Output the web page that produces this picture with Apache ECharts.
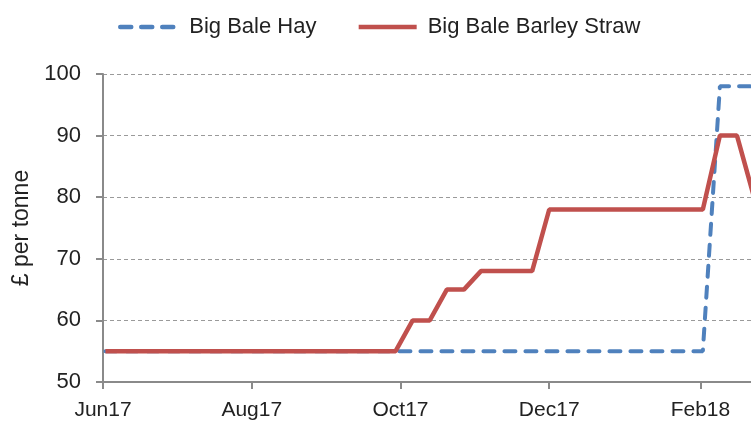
<!DOCTYPE html>
<html>
<head>
<meta charset="utf-8">
<script src="https://cdn.jsdelivr.net/npm/echarts@6/dist/echarts.min.js"></script>
<style>
  html, body { margin: 0; padding: 0; background: #ffffff; }
  #chart { width: 751px; height: 428px; }
</style>
</head>
<body>
<div id="chart"></div>
<script>
// Weekly price observations (Fridays)
const weeks = [
  '2017-06-02', '2017-06-09', '2017-06-16', '2017-06-23', '2017-06-30',
  '2017-07-07', '2017-07-14', '2017-07-21', '2017-07-28',
  '2017-08-04', '2017-08-11', '2017-08-18', '2017-08-25',
  '2017-09-01', '2017-09-08', '2017-09-15', '2017-09-22', '2017-09-29',
  '2017-10-06', '2017-10-13', '2017-10-20', '2017-10-27',
  '2017-11-03', '2017-11-10', '2017-11-17', '2017-11-24',
  '2017-12-01', '2017-12-08', '2017-12-15', '2017-12-22', '2017-12-29',
  '2018-01-05', '2018-01-12', '2018-01-19', '2018-01-26',
  '2018-02-02', '2018-02-09', '2018-02-16', '2018-02-23'
];

// £ per tonne
const hayPrices = [
  55, 55, 55, 55, 55,
  55, 55, 55, 55,
  55, 55, 55, 55,
  55, 55, 55, 55, 55,
  55, 55, 55, 55,
  55, 55, 55, 55,
  55, 55, 55, 55, 55,
  55, 55, 55, 55,
  55, 98, 98, 98
];

const strawPrices = [
  55, 55, 55, 55, 55,
  55, 55, 55, 55,
  55, 55, 55, 55,
  55, 55, 55, 55, 55,
  60, 60, 65, 65,
  68, 68, 68, 68,
  78, 78, 78, 78, 78,
  78, 78, 78, 78,
  78, 90, 90, 80
];

const seriesNames = ['Big Bale Hay', 'Big Bale Barley Straw'];
const tickDates = ['2017-06-01', '2017-08-01', '2017-10-01', '2017-12-01', '2018-02-01', '2018-04-01', '2018-06-01'];
const monthNames = ['Jan', 'Feb', 'Mar', 'Apr', 'May', 'Jun', 'Jul', 'Aug', 'Sep', 'Oct', 'Nov', 'Dec'];

const ts = d => { const p = d.split('-').map(Number); return Date.UTC(p[0], p[1] - 1, p[2]); };
const pairs = vals => weeks.map((d, i) => [ts(d), vals[i]]);
const tickValues = tickDates.map(ts);

const FONT = 'Liberation Sans';
const TEXT = '#222222';

const chart = echarts.init(document.getElementById('chart'), null, { renderer: 'canvas' });
chart.setOption({
  animation: false,
  textStyle: { fontFamily: FONT, color: TEXT },
  legend: {
    left: 113,
    top: 11,
    itemWidth: 58,
    itemHeight: 14,
    itemGap: 40,
    itemStyle: { opacity: 0 },
    lineStyle: { width: 4.5 },
    textStyle: { fontFamily: FONT, fontSize: 22, color: TEXT, padding: [0, 0, 0, 6] },
    data: seriesNames
  },
  // the plot runs on past the right edge of the page
  grid: { left: 103, top: 74, width: 890, height: 308, containLabel: false, outerBoundsMode: 'none' },
  xAxis: {
    type: 'value',
    min: ts('2017-06-01'),
    max: ts('2018-06-01'),
    axisLine: { lineStyle: { color: '#8a8a8a', width: 2 } },
    axisTick: { show: true, length: 7, inside: false, customValues: tickValues, lineStyle: { color: '#8a8a8a', width: 2 } },
    axisLabel: {
      customValues: tickValues,
      margin: 18,
      fontFamily: FONT,
      fontSize: 21,
      color: TEXT,
      formatter: v => {
        const d = new Date(v);
        return monthNames[d.getUTCMonth()] + String(d.getUTCFullYear()).slice(2);
      }
    },
    splitLine: { show: false }
  },
  yAxis: {
    type: 'value',
    min: 50,
    max: 100,
    interval: 10,
    name: '£ per tonne',
    nameLocation: 'middle',
    nameRotate: 90,
    nameGap: 70,
    nameTextStyle: { fontFamily: FONT, fontSize: 23, color: TEXT },
    axisLine: { show: true, lineStyle: { color: '#8a8a8a', width: 2 } },
    axisTick: { show: true, length: 7, lineStyle: { color: '#8a8a8a', width: 2 } },
    axisLabel: { margin: 22, fontFamily: FONT, fontSize: 22, color: TEXT },
    splitLine: { show: true, lineStyle: { color: '#9a9a9a', width: 1, type: [4, 3] } }
  },
  series: [
    {
      name: seriesNames[0],
      type: 'line',
      symbol: 'none',
      data: pairs(hayPrices),
      color: '#4F81BD',
      lineStyle: { color: '#4F81BD', width: 4, type: [11, 10], cap: 'round' },
      z: 2
    },
    {
      name: seriesNames[1],
      type: 'line',
      symbol: 'none',
      data: pairs(strawPrices),
      color: '#C0504D',
      lineStyle: { color: '#C0504D', width: 4.5 },
      z: 3
    }
  ]
});
</script>
</body>
</html>
